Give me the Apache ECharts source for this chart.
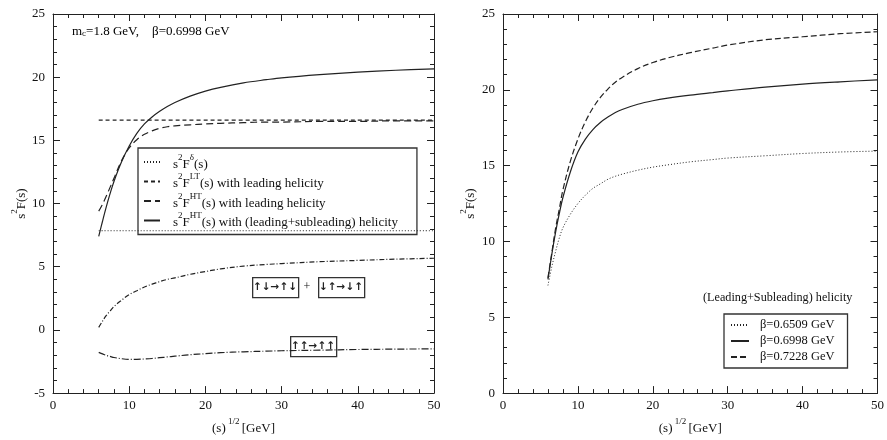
<!DOCTYPE html>
<html>
<head>
<meta charset="utf-8">
<script src="https://cdn.jsdelivr.net/npm/echarts@6/dist/echarts.min.js"></script>
<style>
  html, body { margin: 0; padding: 0; background: #fff; }
  #main { width: 887px; height: 440px; }
</style>
</head>
<body>
<div id="main"></div>
<script>
// sqrt(s) sample points [GeV]
const xs = [6, 6.5, 7, 7.5, 8, 9, 10, 11, 12, 13, 14, 15, 16, 18, 20, 22, 25, 28, 30, 35, 40, 45, 50];
const flatX = [6, 50];

// left panel
const deltaVals = [7.85, 7.85];
const ltVals = [16.6, 16.6];
const htLeading = [9.4, 9.95, 10.6, 11.3, 12.0, 13.4, 14.4, 15.05, 15.48, 15.75, 15.95, 16.08, 16.15, 16.23, 16.3, 16.35, 16.4, 16.45, 16.45, 16.5, 16.5, 16.55, 16.55];
const htFull = [7.4, 8.6, 9.75, 10.8, 11.75, 13.3, 14.55, 15.55, 16.3, 16.85, 17.3, 17.68, 18.0, 18.5, 18.9, 19.2, 19.55, 19.8, 19.95, 20.2, 20.4, 20.55, 20.65];
const antiParallel = [0.2, 0.7, 1.15, 1.5, 1.85, 2.35, 2.8, 3.1, 3.4, 3.62, 3.82, 4.0, 4.12, 4.4, 4.62, 4.83, 5.05, 5.18, 5.25, 5.4, 5.5, 5.6, 5.67];
const parallel = [-1.78, -1.9, -2.02, -2.1, -2.18, -2.28, -2.33, -2.33, -2.3, -2.26, -2.2, -2.14, -2.08, -1.96, -1.88, -1.8, -1.73, -1.68, -1.65, -1.6, -1.55, -1.52, -1.5];

// right panel, (leading+subleading) helicity for three beta values
const beta1 = [7.1, 8.3, 9.3, 10.2, 10.9, 11.8, 12.5, 13.05, 13.5, 13.8, 14.1, 14.3, 14.45, 14.7, 14.9, 15.05, 15.25, 15.4, 15.5, 15.65, 15.8, 15.9, 15.96];
const beta2 = [7.5, 9.1, 10.55, 11.8, 12.9, 14.6, 15.9, 16.75, 17.38, 17.85, 18.2, 18.5, 18.72, 19.05, 19.28, 19.45, 19.65, 19.82, 19.93, 20.18, 20.38, 20.53, 20.66];
const beta3 = [7.6, 9.2, 10.8, 12.1, 13.4, 15.3, 16.75, 17.9, 18.8, 19.5, 20.05, 20.5, 20.85, 21.4, 21.8, 22.1, 22.45, 22.75, 22.95, 23.3, 23.5, 23.7, 23.83];

const FONT = "Liberation Serif";
const INK = "#222";

function pairs(x, y) {
  return x.map((v, i) => [v, y[i]]);
}

const rich = {
  n: { fontFamily: FONT, fontSize: 13, color: "#111", lineHeight: 18, verticalAlign: "bottom" },
  sup: { fontFamily: FONT, fontSize: 9, color: "#111", lineHeight: 9, verticalAlign: "top" },
  sub: { fontFamily: FONT, fontSize: 9, color: "#111", lineHeight: 6, verticalAlign: "bottom" }
};

const legendText = {
  delta: "{n|s}{sup|2}{n|F}{sup|δ}{n|(s)}",
  lt: "{n|s}{sup|2}{n|F}{sup|LT}{n|(s) with leading helicity}",
  htL: "{n|s}{sup|2}{n|F}{sup|HT}{n|(s) with leading helicity}",
  htLS: "{n|s}{sup|2}{n|F}{sup|HT}{n|(s) with (leading+subleading) helicity}",
  b1: "β=0.6509 GeV",
  b2: "β=0.6998 GeV",
  b3: "β=0.7228 GeV"
};

function xAxisFor(grid, pos) {
  return {
    type: "value", gridIndex: grid, position: pos, min: 0, max: 50, interval: 10,
    axisLine: { onZero: false, lineStyle: { color: INK, width: 1 } },
    axisTick: { inside: true, length: 7, lineStyle: { color: INK } },
    minorTick: { show: true, splitNumber: 5, length: 4, lineStyle: { color: INK } },
    splitLine: { show: false },
    axisLabel: { show: pos === "bottom", fontFamily: FONT, fontSize: 13, color: "#111", margin: 6 },
    name: pos === "bottom" ? "{n|(s)}{sup| 1/2 }{n|[GeV]}" : "",
    nameLocation: "middle", nameGap: 20,
    nameTextStyle: { rich: rich }
  };
}

function yAxisFor(grid, pos, min, gap) {
  return {
    type: "value", gridIndex: grid, position: pos, min: min, max: 25, interval: 5,
    axisLine: { show: true, onZero: false, lineStyle: { color: INK, width: 1 } },
    axisTick: { show: true, inside: true, length: 7, lineStyle: { color: INK } },
    minorTick: { show: true, splitNumber: 5, length: 4, lineStyle: { color: INK } },
    splitLine: { show: false },
    axisLabel: { show: pos === "left", fontFamily: FONT, fontSize: 13, color: "#111", margin: 8 },
    name: pos === "left" ? "{n|s}{sup|2}{n|F(s)}" : "",
    nameLocation: "middle", nameGap: gap, nameRotate: 90,
    nameTextStyle: { rich: rich }
  };
}

function line(name, data, xi, yi, type, width) {
  return {
    name: name, type: "line", xAxisIndex: xi, yAxisIndex: yi, data: data,
    symbol: "none", smooth: 0.35, silent: true, animation: false,
    itemStyle: { color: INK },
    lineStyle: { color: INK, width: width || 1.2, type: type }
  };
}

function box(x, y, w, h, label) {
  return [
    { type: "rect", left: x, top: y, shape: { width: w, height: h },
      style: { fill: "#fff", stroke: "#333", lineWidth: 1.3 } },
    { type: "text", x: x + w / 2, y: y + h / 2,
      style: { text: label, font: "bold 10.5px 'DejaVu Sans'", fill: "#222", align: "center", verticalAlign: "middle" } }
  ];
}

const chart = echarts.init(document.getElementById("main"));
chart.setOption({
  animation: false,
  backgroundColor: "#fff",
  grid: [
    { left: 53, top: 14, width: 381, height: 390 },
    { left: 503, top: 14, width: 380, height: 390 }
  ],
  xAxis: [xAxisFor(0, "bottom"), xAxisFor(0, "top"), xAxisFor(1, "bottom"), xAxisFor(1, "top")],
  yAxis: [yAxisFor(0, "left", -5, 22), yAxisFor(0, "right", -5, 0), yAxisFor(1, "left", 0, 26), yAxisFor(1, "right", 0, 0)],
  legend: [
    {
      data: ["delta", "lt", "htL", "htLS"],
      orient: "vertical", left: 138, top: 148,
      padding: [5, 19, 5, 5], itemGap: 1.5, itemWidth: 16, itemHeight: 10,
      borderColor: "#333", borderWidth: 1.3, selectedMode: false,
      itemStyle: { opacity: 0 },
      formatter: n => legendText[n],
      textStyle: { rich: rich, padding: [0, 0, 0, 8] }
    },
    {
      data: ["b1", "b2", "b3"],
      orient: "vertical", left: 724, top: 314,
      padding: [3, 13, 3, 6], itemGap: 0, itemWidth: 18, itemHeight: 10,
      borderColor: "#333", borderWidth: 1.3, selectedMode: false,
      itemStyle: { opacity: 0 },
      formatter: n => legendText[n],
      textStyle: { fontFamily: FONT, fontSize: 12.5, color: "#111", lineHeight: 16, padding: [0, 0, 0, 6] }
    }
  ],
  graphic: [
    { type: "text", left: 72, top: 25,
      style: { text: "{n|m}{sub|c}{n|=1.8 GeV,    β=0.6998 GeV}", rich: rich } },
    { type: "text", left: 703, top: 292,
      style: { text: "(Leading+Subleading) helicity", font: "12.2px 'Liberation Serif'", fill: "#111" } },
    ...box(252, 277, 46, 20, "↑↓→↑↓"),
    { type: "text", x: 307, y: 287,
      style: { text: "+", font: "12px 'Liberation Serif'", fill: "#111", align: "center", verticalAlign: "middle" } },
    ...box(318, 277, 46, 20, "↓↑→↓↑"),
    ...box(290, 336, 46, 20, "↑↑→↑↑")
  ],
  series: [
    line("delta", pairs(flatX, deltaVals), 0, 0, [1, 2], 1),
    line("lt", pairs(flatX, ltVals), 0, 0, [4, 3]),
    line("htL", pairs(xs, htLeading), 0, 0, [7, 4]),
    line("htLS", pairs(xs, htFull), 0, 0, "solid"),
    line("anti", pairs(xs, antiParallel), 0, 0, [5, 2, 1, 2]),
    line("para", pairs(xs, parallel), 0, 0, [7, 2, 1, 2]),
    line("b1", pairs(xs, beta1), 2, 2, [1, 2], 1),
    line("b2", pairs(xs, beta2), 2, 2, "solid"),
    line("b3", pairs(xs, beta3), 2, 2, [6, 3])
  ]
});
</script>
</body>
</html>
